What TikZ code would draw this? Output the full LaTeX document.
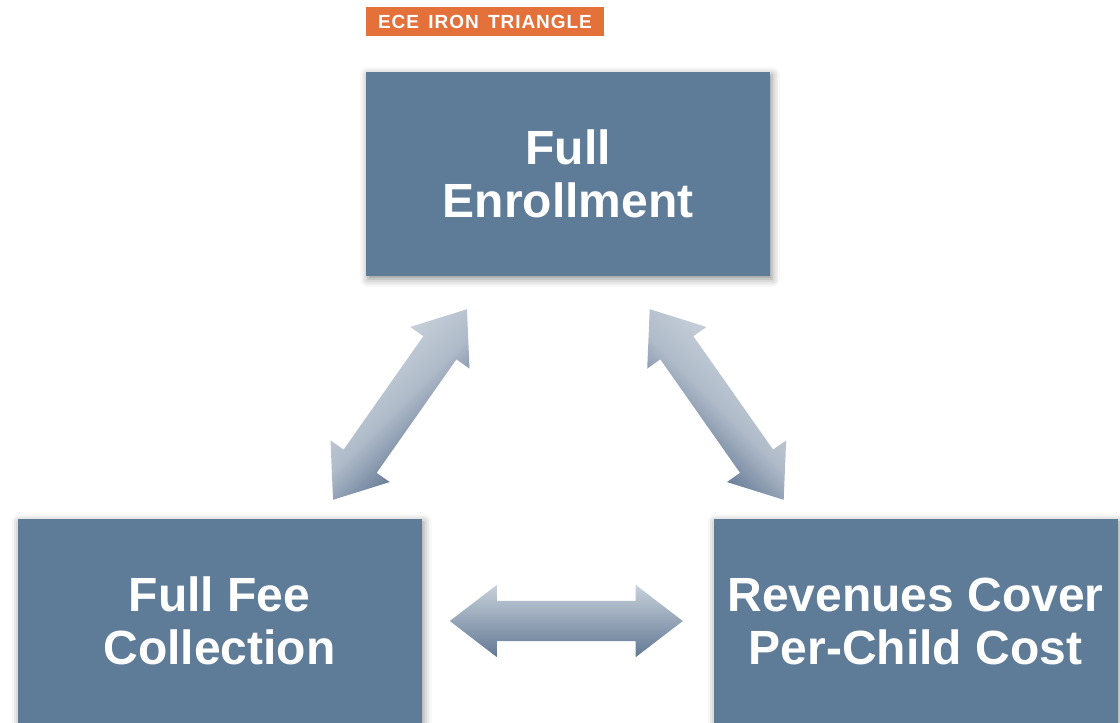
\documentclass[tikz,border=0pt]{standalone}
\usepackage{fontspec}
\setmainfont{Liberation Sans}
\newfontfamily\tagfont[LetterSpace=5,WordSpace=1.5]{Liberation Sans}
\usetikzlibrary{shapes.arrows,shadows.blur}
\definecolor{boxblue}{RGB}{94,123,152}
\definecolor{tagorange}{RGB}{228,112,58}
\definecolor{arrowlight}{RGB}{200,209,219}
\definecolor{arrowmid}{RGB}{176,187,201}
\definecolor{arrowdark}{RGB}{98,120,148}
\pgfdeclareverticalshading{slantshade}{100bp}{color(0bp)=(arrowdark); color(34bp)=(arrowdark);
	color(50bp)=(arrowmid); color(66bp)=(arrowlight); color(100bp)=(arrowlight)}
\tikzset{
	goalbox/.style={fill=boxblue,text=white,minimum width=404pt,minimum height=204pt,
		inner sep=0pt,align=center,font=\bfseries\fontsize{48}{53}\selectfont,
		blur shadow={shadow xshift=2pt,shadow yshift=-3pt,shadow blur radius=8pt,shadow opacity=45}},
	linkarrow/.style={double arrow,double arrow tip angle=75,double arrow head extend=16pt,
		minimum height=233pt,minimum width=72pt,text height=20pt,text depth=20pt,inner sep=0pt,
		top color=arrowlight,middle color=arrowmid,bottom color=arrowdark},
	slantarrow/.style={linkarrow,shading=slantshade,shading angle=#1}
}
\begin{document}
\begin{tikzpicture}[x=1pt,y=-1pt]
			\useasboundingbox (0,0) rectangle (1120,723);
			\node [fill=tagorange,text=white,minimum width=238pt,minimum height=29pt,inner sep=0pt,
				font=\tagfont\bfseries\fontsize{19}{19}\selectfont] (title) at (485,21.5) {ECE IRON TRIANGLE};
			\node [goalbox] (enroll) at (568,174) {Full\\Enrollment};
			\node [goalbox] (fee) at (219.5,621) {Full Fee\\Collection};
			\node [goalbox] (cost) at (915.5,621) {Revenues Cover\\Per-Child Cost};
			\node [slantarrow=45,rotate=54.9] (enrollfee) at (400,404.5) {};
			\node [slantarrow=-45,rotate=-54.9] (enrollcost) at (716.7,404.5) {};
			\node [linkarrow] (feecost) at (566.3,621) {};
		\end{tikzpicture}
\end{document}
